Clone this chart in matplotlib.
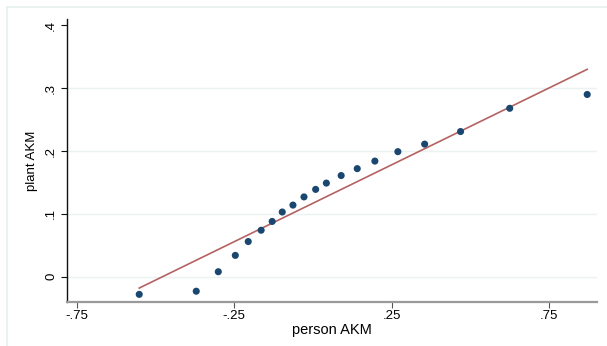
import matplotlib
matplotlib.use('Agg')
import matplotlib.pyplot as plt
from matplotlib.lines import Line2D

# binned scatter: person AKM vs plant AKM
person_akm = [-0.551, -0.370, -0.300, -0.246, -0.205, -0.164, -0.129, -0.097,
              -0.063, -0.028, 0.009, 0.043, 0.090, 0.141, 0.197, 0.270,
              0.355, 0.469, 0.625, 0.871]
plant_akm = [-0.028, -0.023, 0.008, 0.034, 0.056, 0.074, 0.088, 0.103,
             0.114, 0.127, 0.139, 0.149, 0.161, 0.172, 0.184, 0.199,
             0.211, 0.231, 0.268, 0.290]

# fitted line end points
fit_x = [-0.551, 0.871]
fit_y = [-0.018, 0.330]

x_ticks = [-0.75, -0.25, 0.25, 0.75]
x_labels = ['-.75', '-.25', '.25', '.75']
y_ticks = [0, 0.1, 0.2, 0.3, 0.4]
y_labels = ['0', '.1', '.2', '.3', '.4']
grid_levels = [0, 0.1, 0.2, 0.3]

plt.rcParams['font.family'] = ['Liberation Sans', 'DejaVu Sans']

fig = plt.figure(figsize=(6.07, 3.46), dpi=100)
ax = fig.add_axes([0.110, 0.128, 0.874, 0.817])

# faint outer frame (top and left edges)
fig.add_artist(Line2D([7 / 607, 1], [1 - 6.5 / 346, 1 - 6.5 / 346],
                      transform=fig.transFigure, color='#e8f0f0', lw=1.2))
fig.add_artist(Line2D([7 / 607, 7 / 607], [0, 1 - 6.5 / 346],
                      transform=fig.transFigure, color='#e8f0f0', lw=1.2))

for g in grid_levels:
    ax.axhline(g, color='#eaf2f2', lw=1.0, zorder=0)

ax.plot(fit_x, fit_y, color='#b46262', lw=1.2, zorder=2)
ax.scatter(person_akm, plant_akm, s=26, color='#1a476f', edgecolors='none', zorder=3)

ax.set_xlim(-0.781, 0.903)
ax.set_ylim(-0.0397, 0.41)

ax.set_xticks(x_ticks)
ax.set_xticklabels(x_labels)
ax.set_yticks(y_ticks)
ax.set_yticklabels(y_labels, rotation=90, va='center')

ax.spines['top'].set_visible(False)
ax.spines['right'].set_visible(False)
ax.spines['left'].set_color('#111111')
ax.spines['left'].set_linewidth(1.0)
ax.spines['bottom'].set_color('#9a9a9a')
ax.spines['bottom'].set_linewidth(1.6)

ax.tick_params(axis='x', length=4, width=0.8, color='#555555', labelsize=9.5, pad=2)
ax.tick_params(axis='y', length=4, width=0.8, color='#111111', labelsize=9.5, pad=3)

ax.set_xlabel('person AKM', fontsize=10.5, labelpad=1)
ax.set_ylabel('plant AKM', fontsize=9.5, labelpad=5)

fig.savefig('out.png', dpi=100)
